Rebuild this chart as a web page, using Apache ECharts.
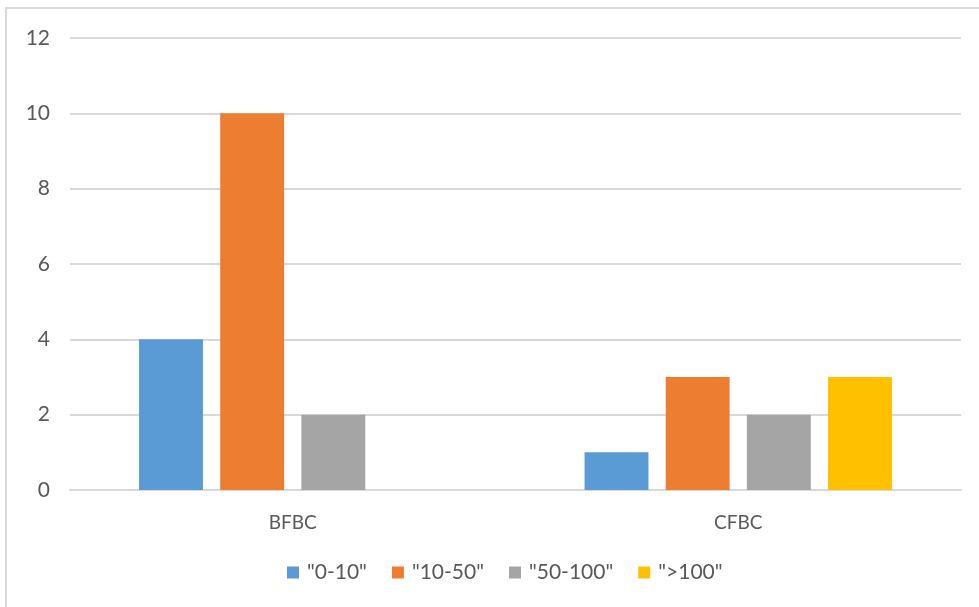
<!DOCTYPE html>
<html>
<head>
<meta charset="utf-8">
<script src="https://cdn.jsdelivr.net/npm/echarts@6/dist/echarts.min.js"></script>
<style>
  html, body { margin: 0; padding: 0; background: #ffffff; }
  #chart { width: 979px; height: 607px; }
</style>
</head>
<body>
<div id="chart"></div>
<script>
// Boiler types on the category axis
const categories = ['BFBC', 'CFBC'];

// Counts per size band
const band0to10 = [4, 1];
const band10to50 = [10, 3];
const band50to100 = [2, 2];
const bandOver100 = [null, 3];

const seriesNames = ['"0-10"', '"10-50"', '"50-100"', '">100"'];
const seriesColors = ['#5b9bd5', '#ed7d31', '#a5a5a5', '#ffc000'];
const seriesValues = [band0to10, band10to50, band50to100, bandOver100];

const textColor = '#595959';
const fontFamily = 'Lato, "Open Sans", sans-serif';

const chart = echarts.init(document.getElementById('chart'));

chart.setOption({
  animation: false,
  backgroundColor: '#ffffff',
  textStyle: { fontFamily: fontFamily },
  graphic: [{
    type: 'rect',
    shape: { x: 6, y: 8, width: 978, height: 610 },
    style: { fill: 'none', stroke: '#d9d9d9', lineWidth: 2 },
    silent: true
  }],
  grid: { left: 70, right: 18, top: 38, bottom: 117, containLabel: false },
  legend: {
    bottom: 19,
    left: 282,
    itemWidth: 12,
    itemHeight: 12,
    itemGap: 25,
    icon: 'rect',
    textStyle: { color: textColor, fontSize: 21, fontFamily: fontFamily, padding: [0, 0, 0, 3] },
    data: seriesNames
  },
  xAxis: {
    type: 'category',
    data: categories,
    axisTick: { show: false },
    axisLine: { show: true, lineStyle: { color: '#d9d9d9', width: 2 } },
    axisLabel: { color: textColor, fontSize: 19, margin: 23, fontFamily: fontFamily }
  },
  yAxis: {
    type: 'value',
    min: 0,
    max: 12,
    interval: 2,
    axisLine: { show: false },
    axisTick: { show: false },
    axisLabel: { color: textColor, fontSize: 21, margin: 20, fontFamily: fontFamily },
    splitLine: { lineStyle: { color: '#d9d9d9', width: 2 } }
  },
  series: seriesNames.map((name, i) => ({
    name: name,
    type: 'bar',
    data: seriesValues[i],
    barGap: '27%',
    barCategoryGap: '31%',
    itemStyle: { color: seriesColors[i] }
  }))
});
</script>
</body>
</html>
